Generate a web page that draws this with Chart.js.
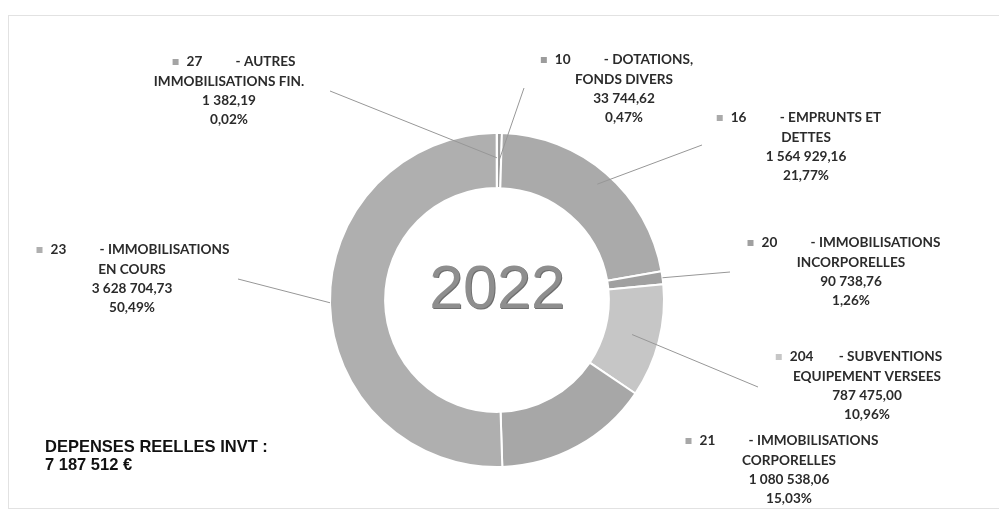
<!DOCTYPE html>
<html lang="fr">
<head>
<meta charset="utf-8">
<title>Dépenses réelles d'investissement 2022</title>
<script src="https://cdn.jsdelivr.net/npm/chart.js@4/dist/chart.umd.min.js"></script>
<style>
	html, body { margin: 0; padding: 0; background: #fff; }
	#wrap { position: relative; width: 999px; height: 510px; overflow: hidden; }
	#frame { position: absolute; left: 8px; top: 15px; width: 1000px; height: 492px; border: 1px solid #e2e2e2; }
	#chart { position: absolute; left: 0; top: 0; }
</style>
</head>
<body>
<div id="wrap">
	<div id="frame"></div>
	<canvas id="chart" width="999" height="510"></canvas>
</div>
<script>
const year = '2022'
const codes = ['10', '16', '20', '204', '21', '23', '27']
const nameLines = [
	['- DOTATIONS,', 'FONDS DIVERS'],
	['- EMPRUNTS ET', 'DETTES'],
	['- IMMOBILISATIONS', 'INCORPORELLES'],
	['- SUBVENTIONS', 'EQUIPEMENT VERSEES'],
	['- IMMOBILISATIONS', 'CORPORELLES'],
	['- IMMOBILISATIONS', 'EN COURS'],
	['- AUTRES', 'IMMOBILISATIONS FIN.'],
]
const amounts = [33744.62, 1564929.16, 90738.76, 787475.0, 1080538.06, 3628704.73, 1382.19]
const sliceColors = ['#9c9c9c', '#aaaaaa', '#a0a0a0', '#c6c6c6', '#a7a7a7', '#afafaf', '#a4a4a4']

const total = amounts.reduce((a, b) => a + b, 0)

// french style numbers: 1 564 929,16
const groupDigits = (s) => s.replace(/\B(?=(\d{3})+(?!\d))/g, ' ')
const fmtAmount = (v) => {
	const [int, dec] = v.toFixed(2).split('.')
	return groupDigits(int) + ',' + dec
}
const fmtPercent = (v) => (v * 100).toFixed(2).replace('.', ',') + '%'

// label blocks: cx centres the lower lines, head centres the first one
const labelLayout = [
	{ cx: 624, head: 624, y: 60, leader: [524, 88], depth: 0.5 },
	{ cx: 806, head: 806, y: 118, leader: [702, 145], depth: 0.75 },
	{ cx: 851, head: 851, y: 243, leader: [730, 272], depth: 1 },
	{ cx: 867, head: 866, y: 357, leader: [758, 387], depth: 0.5 },
	{ cx: 789, head: 789, y: 441, leader: null },
	{ cx: 132, head: 140, y: 250, leader: [238, 279], depth: 1 },
	{ cx: 229, head: 241, y: 62, leader: [330, 91], depth: 0.55 },
]

const labelFont = 'bold 13.6px Lato, "Open Sans", sans-serif'
const lineGap = 19.3
const tabWidth = 49

const calloutPlugin = {
	id: 'callouts',
	afterDatasetsDraw(chart) {
		const ctx = chart.ctx
		const arcs = chart.getDatasetMeta(0).data
		ctx.save()

		// leader lines
		ctx.strokeStyle = '#979797'
		ctx.lineWidth = 1
		arcs.forEach((arc, i) => {
			const lay = labelLayout[i]
			if (!lay.leader) return
			const { x, y, startAngle, endAngle, innerRadius, outerRadius } = arc.getProps(
				['x', 'y', 'startAngle', 'endAngle', 'innerRadius', 'outerRadius'],
				true
			)
			const mid = (startAngle + endAngle) / 2
			const r = innerRadius + (outerRadius - innerRadius) * lay.depth
			ctx.beginPath()
			ctx.moveTo(lay.leader[0], lay.leader[1])
			ctx.lineTo(x + Math.cos(mid) * r, y + Math.sin(mid) * r)
			ctx.stroke()
		})

		// label blocks
		ctx.font = labelFont
		ctx.textBaseline = 'middle'
		codes.forEach((code, i) => {
			const lay = labelLayout[i]
			const names = nameLines[i]
			const firstW = tabWidth + ctx.measureText(names[0]).width
			const codeX = lay.head - firstW / 2
			ctx.textAlign = 'left'
			ctx.fillStyle = sliceColors[i]
			ctx.fillRect(codeX - 14, lay.y - 3, 6, 6)
			ctx.fillStyle = '#2b2b2b'
			ctx.fillText(code, codeX, lay.y)
			ctx.fillText(names[0], codeX + tabWidth, lay.y)
			ctx.textAlign = 'center'
			const rest = [names[1], fmtAmount(amounts[i]), fmtPercent(amounts[i] / total)]
			rest.forEach((line, k) => ctx.fillText(line, lay.cx, lay.y + lineGap * (k + 1)))
		})

		// year in the hole
		const c = arcs[0]
		ctx.font = '61px "Liberation Sans", Arial, sans-serif'
		ctx.textAlign = 'center'
		ctx.textBaseline = 'middle'
		ctx.fillStyle = '#6e6e6e'
		ctx.fillText(year, c.x + 1, c.y - 8)
		ctx.fillStyle = '#8e8e8e'
		ctx.fillText(year, c.x, c.y - 9)

		// total
		ctx.font = 'bold 16.5px "Liberation Sans", Arial, sans-serif'
		ctx.textAlign = 'left'
		ctx.textBaseline = 'alphabetic'
		ctx.fillStyle = '#111'
		ctx.fillText('DEPENSES REELLES INVT :', 45, 452)
		ctx.fillText(groupDigits(Math.floor(total).toString()) + ' €', 45, 470)
		ctx.restore()
	},
}

new Chart(document.getElementById('chart').getContext('2d'), {
	type: 'doughnut',
	data: {
		labels: codes,
		datasets: [
			{
				data: amounts,
				backgroundColor: sliceColors,
				borderColor: '#ffffff',
				borderWidth: 2,
			},
		],
	},
	options: {
		responsive: false,
		animation: false,
		cutout: '67%',
		layout: { padding: { top: 132, bottom: 42, left: 329, right: 334 } },
		plugins: {
			legend: { display: false },
			tooltip: { enabled: false },
		},
	},
	plugins: [calloutPlugin],
})
</script>
</body>
</html>
